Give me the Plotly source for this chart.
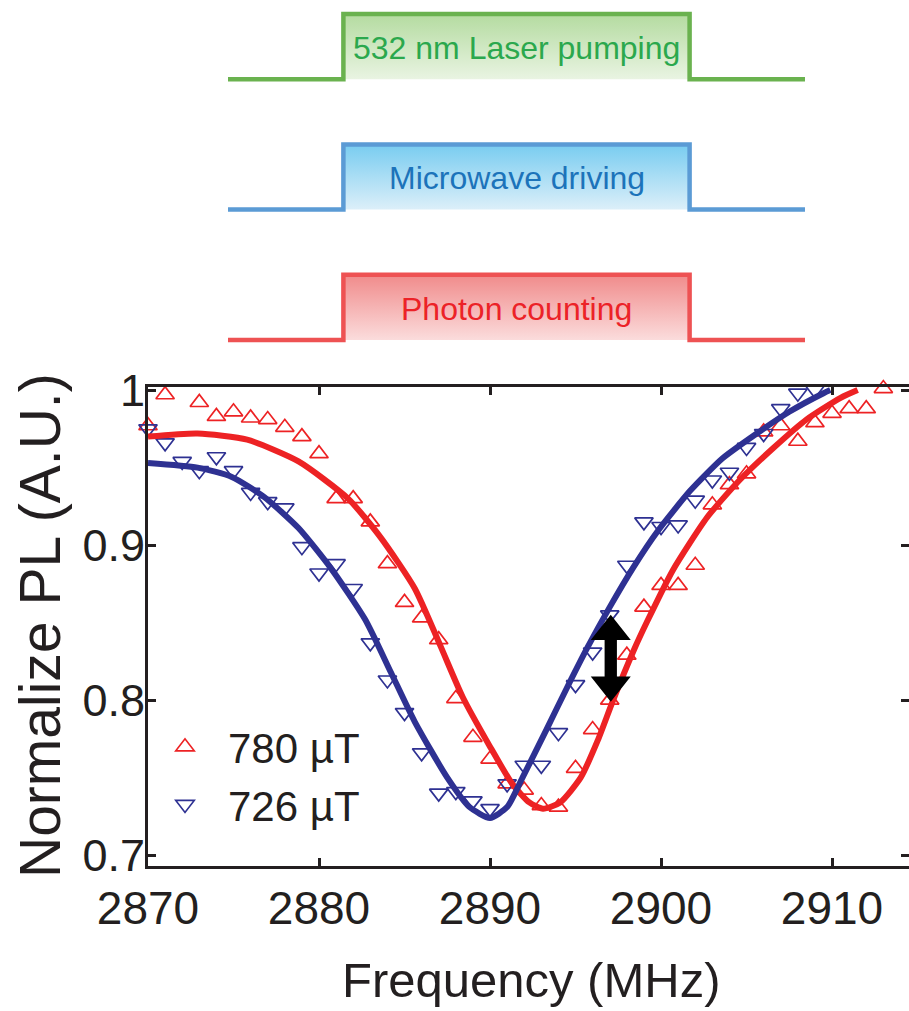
import plotly.graph_objects as go

W, H = 909, 1011
FONT = "Liberation Sans, Arial, Helvetica, sans-serif"
INK = "#231f20"

# ---------------- measured ODMR spectra ----------------
freq_780 = [2870, 2871, 2873, 2874, 2875, 2876, 2877, 2878, 2879, 2880,
            2881, 2882, 2883, 2884, 2885, 2886, 2887, 2888, 2889, 2890,
            2891, 2892, 2893, 2894, 2895, 2896, 2897, 2898, 2899, 2900,
            2901, 2902, 2903, 2904, 2905, 2906, 2907, 2908, 2909, 2910,
            2911, 2912, 2913]
pl_780 = [0.977, 0.997, 0.992, 0.983, 0.986, 0.982, 0.981, 0.976, 0.970, 0.959,
          0.930, 0.930, 0.915, 0.888, 0.863, 0.853, 0.839, 0.801, 0.776, 0.762,
          0.746, 0.742, 0.732, 0.731, 0.756, 0.781, 0.800, 0.829, 0.860, 0.874,
          0.874, 0.887, 0.926, 0.939, 0.946, 0.973, 0.977, 0.967, 0.979, 0.985,
          0.988, 0.988, 1.001]

freq_726 = [2870, 2871, 2872, 2873, 2874, 2875, 2876, 2877, 2878, 2879,
            2880, 2881, 2882, 2883, 2884, 2885, 2886, 2887, 2888, 2889,
            2890, 2891, 2892, 2893, 2894, 2895, 2896, 2897, 2898, 2899,
            2900, 2901, 2902, 2903, 2904, 2905, 2906, 2907, 2908, 2909]
pl_726 = [0.975, 0.966, 0.954, 0.948, 0.957, 0.948, 0.934, 0.928, 0.924, 0.899,
          0.882, 0.888, 0.872, 0.837, 0.813, 0.792, 0.766, 0.740, 0.741, 0.735,
          0.730, 0.746, 0.758, 0.758, 0.779, 0.810, 0.831, 0.855, 0.887, 0.915,
          0.912, 0.913, 0.929, 0.942, 0.947, 0.963, 0.972, 0.988, 0.998, 1.000]

# ---------------- fitted curves (sampled) ----------------
fit_freq_780 = [2870.0, 2872.9, 2875.8, 2878.8, 2881.7, 2883.6, 2885.6, 2887.1,
                2888.4, 2890.0, 2891.3, 2892.3, 2893.1, 2894.1, 2895.3, 2896.3,
                2897.2, 2898.4, 2899.2, 2900.7, 2902.7, 2904.6, 2906.6, 2908.5,
                2910.5, 2911.5]
fit_pl_780 = [0.970, 0.972, 0.968, 0.954, 0.930, 0.905, 0.872, 0.835,
              0.802, 0.770, 0.746, 0.734, 0.730, 0.734, 0.750, 0.774,
              0.800, 0.832, 0.851, 0.884, 0.918, 0.942, 0.963, 0.981,
              0.995, 1.000]

fit_freq_726 = [2870.0, 2872.9, 2874.9, 2876.8, 2878.8, 2880.7, 2882.7, 2884.2,
                2885.6, 2887.5, 2888.8, 2890.0, 2891.0, 2891.9, 2893.3, 2894.5,
                2895.7, 2897.0, 2898.4, 2899.8, 2901.7, 2903.6, 2905.6, 2907.5,
                2909.5, 2909.9]
fit_pl_726 = [0.953, 0.950, 0.944, 0.931, 0.911, 0.885, 0.852, 0.818,
              0.786, 0.750, 0.731, 0.724, 0.731, 0.750, 0.781, 0.808,
              0.834, 0.860, 0.886, 0.909, 0.935, 0.956, 0.972, 0.986,
              0.998, 1.000]

# double arrow marking the resonance shift
arrow_freq = 2897.06
arrow_top = 0.855
arrow_bottom = 0.799

# axis ticks
x_ticks = [2870, 2880, 2890, 2900, 2910]
y_ticks = [0.7, 0.8, 0.9, 1.0]
y_tick_text = ["0.7", "0.8", "0.9", "1"]

# ---------------- pulse sequence ----------------
pulse_labels = ["532 nm Laser pumping", "Microwave driving", "Photon counting"]
pulse_baselines = [4, 2, 0]
pulse_times = [0, 1, 4, 5]          # start, rising edge, falling edge, end
pulse_line_colors = ["#6ab24f", "#5b9bd5", "#ee5253"]
pulse_text_colors = ["#2ba84d", "#1c73ba", "#ec2227"]
pulse_fill_top = ["#b4dba0", "#78ccf0", "#f08b8b"]
pulse_fill_bottom = ["#e9f4e2", "#dceff9", "#fbdcdc"]

RED = "#ed2224"
BLUE = "#2e3192"

# ---------------- layout geometry (pixels) ----------------
px_left, px_right = 148, 909
px_top, px_bottom = 387, 866
x_range = [2870, 2914.5]
y_range = [0.693, 1.002]

fig = go.Figure()

# pulse diagrams
t0, t_on, t_off, t_end = pulse_times
for label, base, lc, tc, ctop, cbot in zip(pulse_labels, pulse_baselines,
                                           pulse_line_colors, pulse_text_colors,
                                           pulse_fill_top, pulse_fill_bottom):
    fig.add_trace(go.Scatter(
        x=[t_on, t_on, t_off, t_off], y=[base, base + 1, base + 1, base],
        mode="lines", fill="toself", line=dict(width=0, color=lc),
        fillgradient=dict(type="vertical", colorscale=[[0, cbot], [1, ctop]]),
        xaxis="x2", yaxis="y2", showlegend=False, hoverinfo="skip"))
    fig.add_trace(go.Scatter(
        x=[t0, t_on, t_on, t_off, t_off, t_end],
        y=[base, base, base + 1, base + 1, base, base],
        mode="lines", line=dict(width=4.5, color=lc),
        xaxis="x2", yaxis="y2", showlegend=False, hoverinfo="skip"))
    fig.add_annotation(x=(t_on + t_off) / 2, y=base + 0.48, xref="x2", yref="y2",
                       text=label, showarrow=False,
                       font=dict(family=FONT, size=32, color=tc))

# measured points
fig.add_trace(go.Scatter(
    x=freq_780, y=pl_780, mode="markers", name="780 µT", legendgroup="b780",
    marker=dict(symbol="triangle-up-open", size=16, color=RED,
                line=dict(width=1.7, color=RED)),
    cliponaxis=False))
fig.add_trace(go.Scatter(
    x=freq_726, y=pl_726, mode="markers", name="726 µT", legendgroup="b726",
    marker=dict(symbol="triangle-down-open", size=16, color=BLUE,
                line=dict(width=1.7, color=BLUE)),
    cliponaxis=False))

# fitted curves
fig.add_trace(go.Scatter(
    x=fit_freq_780, y=fit_pl_780, mode="lines", showlegend=False,
    line=dict(color=RED, width=6, shape="spline", smoothing=0.6)))
fig.add_trace(go.Scatter(
    x=fit_freq_726, y=fit_pl_726, mode="lines", showlegend=False,
    line=dict(color=BLUE, width=6, shape="spline", smoothing=0.6)))

# double-headed arrow
head_hw = 1.17      # MHz
shaft_hw = 0.36     # MHz
head_len = 0.0162   # PL units
f = arrow_freq
pts = [(f, arrow_top), (f + head_hw, arrow_top - head_len),
       (f + shaft_hw, arrow_top - head_len), (f + shaft_hw, arrow_bottom + head_len),
       (f + head_hw, arrow_bottom + head_len), (f, arrow_bottom),
       (f - head_hw, arrow_bottom + head_len), (f - shaft_hw, arrow_bottom + head_len),
       (f - shaft_hw, arrow_top - head_len), (f - head_hw, arrow_top - head_len)]
path = "M " + " L ".join(f"{a},{b}" for a, b in pts) + " Z"
fig.add_shape(type="path", path=path, xref="x", yref="y",
              fillcolor="black", line=dict(width=0), layer="above")

# axis titles
fig.add_annotation(x=531 / W, y=1 - 980 / H, xref="paper", yref="paper",
                   text="Frequency (MHz)", showarrow=False,
                   xanchor="center", yanchor="middle",
                   font=dict(family=FONT, size=49, color=INK))
fig.add_annotation(x=40 / W, y=1 - 626 / H, xref="paper", yref="paper",
                   text="Normalize PL (A.U.)", showarrow=False, textangle=-90,
                   xanchor="center", yanchor="middle",
                   font=dict(family=FONT, size=57, color=INK))

axis_common = dict(showgrid=False, zeroline=False, ticks="inside", ticklen=8,
                   tickwidth=3, tickcolor=INK, linecolor=INK, linewidth=3,
                   automargin=False)

fig.update_layout(
    width=W, height=H, autosize=False,
    margin=dict(l=0, r=0, t=0, b=0, pad=0, autoexpand=False),
    paper_bgcolor="white", plot_bgcolor="rgba(0,0,0,0)",
    font=dict(family=FONT, color=INK),
    xaxis=dict(domain=[px_left / W, px_right / W], range=x_range,
               tickvals=x_ticks, showline=True, mirror="ticks",
               ticklabelstandoff=0, tickfont=dict(size=46, color=INK),
               anchor="y", **axis_common),
    yaxis=dict(domain=[1 - px_bottom / H, 1 - px_top / H], range=y_range,
               tickvals=y_ticks, ticktext=y_tick_text, showline=True,
               ticklabelstandoff=-9, tickfont=dict(size=45, color=INK),
               anchor="x", **axis_common),
    yaxis3=dict(overlaying="y", side="right", anchor="x", range=y_range,
                tickvals=y_ticks, showticklabels=False, showline=False,
                showgrid=False, zeroline=False, ticks="inside", ticklen=8,
                tickwidth=3, tickcolor=INK, automargin=False),
    xaxis2=dict(domain=[218 / W, 815 / W], range=[-0.0867, 5.0867],
                visible=False, anchor="y2", fixedrange=True, automargin=False),
    yaxis2=dict(domain=[1 - 370 / H, 1.0], range=[-0.46, 5.215],
                visible=False, anchor="x2", fixedrange=True, automargin=False),
    legend=dict(x=142 / W, y=1 - 713 / H, xanchor="left", yanchor="top",
                bgcolor="rgba(0,0,0,0)", borderwidth=0,
                font=dict(family=FONT, size=42, color=INK),
                itemwidth=76, tracegroupgap=0, traceorder="grouped"),
    showlegend=True,
)

# keep the right-hand tick set tied to the main y axis
fig.add_trace(go.Scatter(x=[None], y=[None], yaxis="y3", showlegend=False,
                         hoverinfo="skip"))

fig.write_html("out.html")
